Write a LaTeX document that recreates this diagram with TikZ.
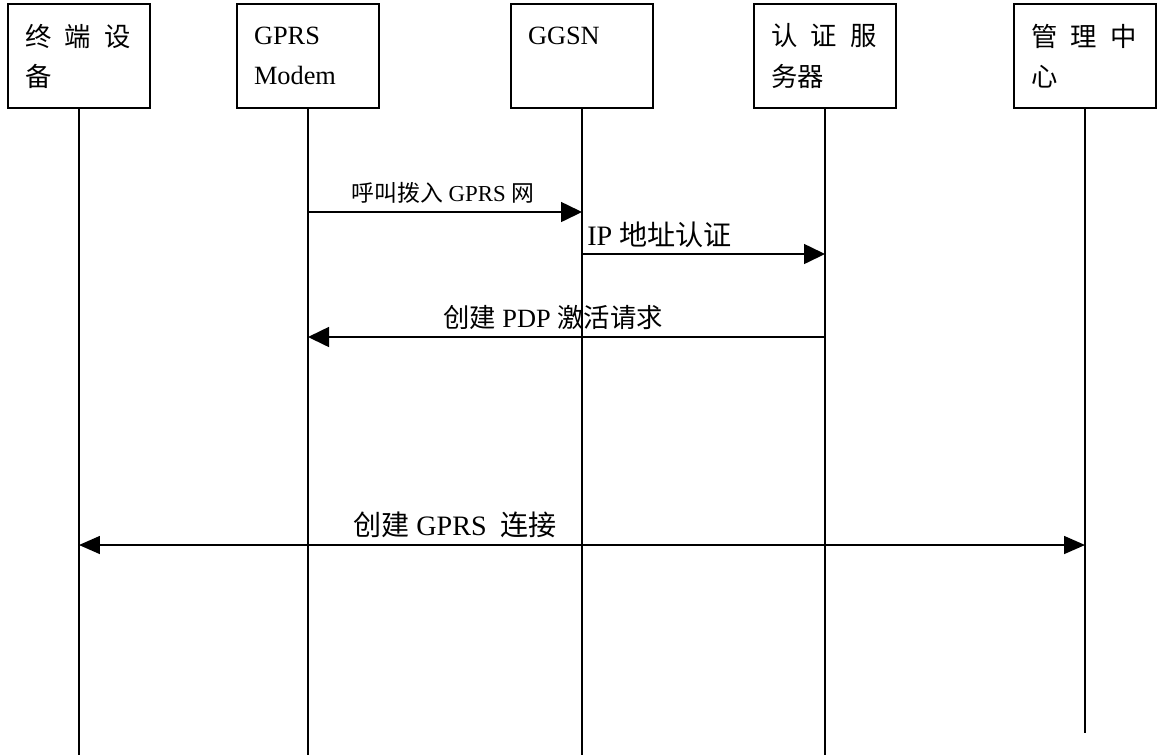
\documentclass[tikz,border=0pt]{standalone}
\usepackage{fontspec}
\setmainfont{Liberation Serif}
\newfontfamily\cjk{Noto Sans CJK SC}
\usetikzlibrary{arrows.meta}

\begin{document}
\begin{tikzpicture}[x=0.02cm, y=-0.02cm,
		every node/.style={font=\fontsize{15}{22.8}\selectfont, inner sep=0pt},
		box/.style={draw, line width=0.7pt, minimum width=2.84cm, minimum height=2.08cm, text width=2.16cm, inner xsep=0.34cm, align=left},
		life/.style={line width=0.8pt},
		msg/.style={line width=0.9pt, -{Triangle[length=0.42cm, width=0.4cm]}},
		both/.style={line width=0.9pt, {Triangle[length=0.42cm, width=0.36cm]}-{Triangle[length=0.42cm, width=0.36cm]}},
		small/.style={font=\fontsize{13}{16}\selectfont},
		big/.style={font=\fontsize{16}{20}\selectfont}
	]
	\useasboundingbox (0,0) rectangle (1159,755);

	\node[box] (term) at (79,56) {{\cjk 终\enspace 端\enspace 设}\\{\cjk 备}};
	\node[box] (modem) at (308,56) {GPRS\\Modem};
	\node[box] (ggsn) at (582,56) {GGSN\\~};
	\node[box] (auth) at (825,56) {{\cjk 认\enspace 证\enspace 服}\\{\cjk 务器}};
	\node[box] (mgmt) at (1085,56) {{\cjk 管\enspace 理\enspace 中}\\{\cjk 心}};

	% lifelines
	\foreach \n/\e in {term/755, modem/755, ggsn/755, auth/755, mgmt/733}
		\draw[life] (\n.south) -- (\n.south |- 0,\e);

	\draw[msg] (modem |- 0,212) -- (ggsn |- 0,212);
	\node[small, anchor=base] (dial) at (443,201) {{\cjk 呼叫拨入} GPRS {\cjk 网}};

	\draw[msg] (ggsn |- 0,254) -- (auth |- 0,254);
	\node[big, anchor=base west] (ipauth) at (587,245) {IP {\cjk 地址认证}};

	\draw[msg] (auth |- 0,337) -- (modem |- 0,337);
	\node[anchor=base] (pdp) at (553,327) {{\cjk 创建} PDP {\cjk 激活请求}};

	\draw[both] (term |- 0,545) -- (mgmt |- 0,545);
	\node[big, anchor=base] (conn) at (455,535) {{\cjk 创建} GPRS\ \ {\cjk 连接}};
\end{tikzpicture}
\end{document}
